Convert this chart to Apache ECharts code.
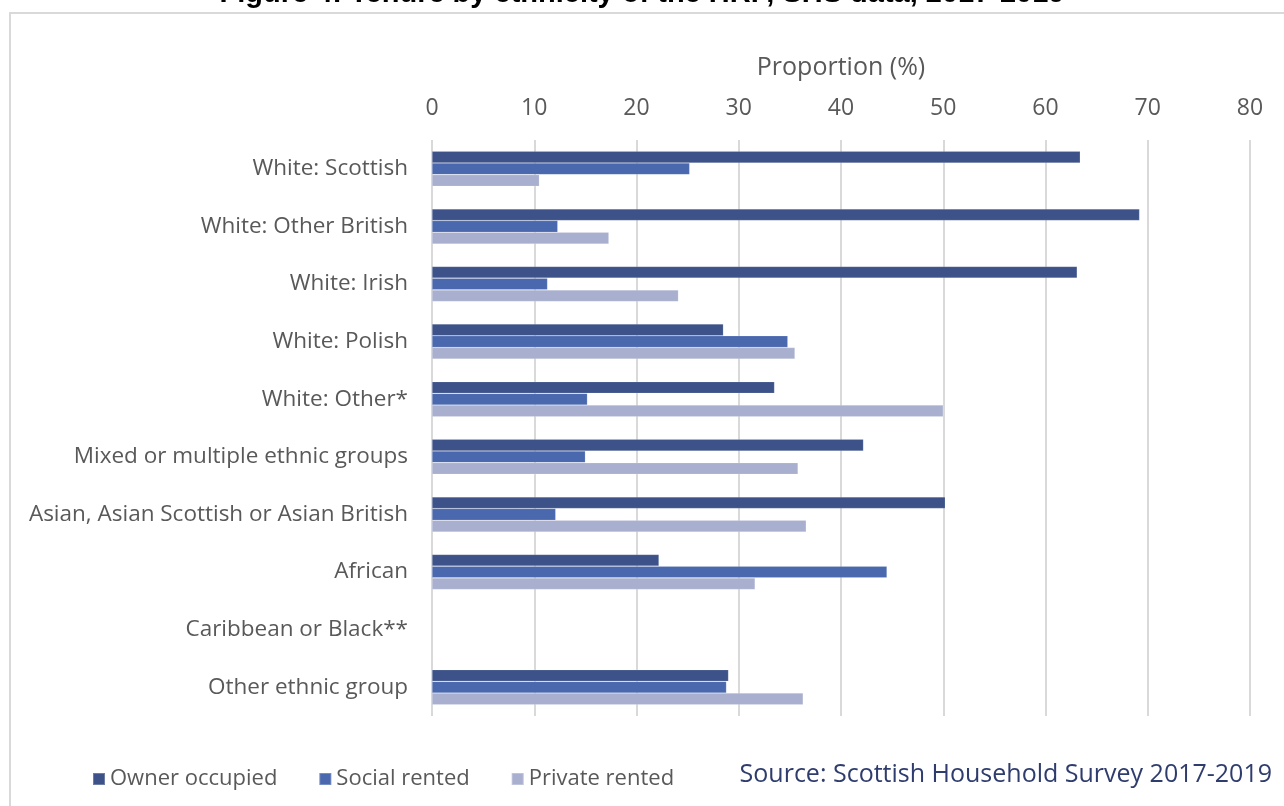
<!DOCTYPE html>
<html>
<head>
<meta charset="utf-8">
<script src="https://cdn.jsdelivr.net/npm/echarts@6/dist/echarts.min.js"></script>
<style>
html,body{margin:0;padding:0;background:#fff;}
#chart{width:1284px;height:806px;}
</style>
</head>
<body>
<div id="chart"></div>
<script>
const categories = [
  'White: Scottish',
  'White: Other British',
  'White: Irish',
  'White: Polish',
  'White: Other*',
  'Mixed or multiple ethnic groups',
  'Asian, Asian Scottish or Asian British',
  'African',
  'Caribbean or Black**',
  'Other ethnic group'
];
const ownerOccupied = [63.4, 69.2, 63.1, 28.5, 33.5, 42.2, 50.2, 22.2, null, 29.0];
const socialRented  = [25.2, 12.3, 11.3, 34.8, 15.2, 15.0, 12.1, 44.5, null, 28.8];
const privateRented = [10.5, 17.3, 24.1, 35.5, 50.0, 35.8, 36.6, 31.6, null, 36.3];
const xTicks = [0, 10, 20, 30, 40, 50, 60, 70, 80];

const FONT = '"Open Sans"';
const chart = echarts.init(document.getElementById('chart'), null, {renderer: 'canvas'});

const barStyle = (c) => ({color: c, borderColor: 'rgba(255,255,255,0.25)', borderWidth: 0.6});

chart.setOption({
  backgroundColor: '#ffffff',
  animation: false,
  textStyle: {fontFamily: FONT},
  grid: {left: 432, right: 34, top: 140, bottom: 90, containLabel: false},
  xAxis: {
    type: 'value',
    position: 'top',
    min: xTicks[0],
    max: xTicks[xTicks.length - 1],
    interval: 10,
    name: 'Proportion (%)',
    nameLocation: 'middle',
    nameGap: 60,
    nameTextStyle: {fontFamily: FONT, fontSize: 25, color: '#595959'},
    axisLine: {show: false},
    axisTick: {show: false},
    axisLabel: {fontFamily: FONT, fontSize: 23, color: '#595959', margin: 20},
    splitLine: {show: true, lineStyle: {color: '#D9D9D9', width: 2}}
  },
  yAxis: {
    type: 'category',
    data: categories,
    inverse: true,
    axisLine: {show: false},
    axisTick: {show: false},
    axisLabel: {fontFamily: FONT, fontSize: 22.5, color: '#595959', margin: 24}
  },
  legend: {
    left: 87,
    top: 763,
    icon: 'rect',
    itemWidth: 12,
    itemHeight: 12,
    itemGap: 41,
    textStyle: {fontFamily: FONT, fontSize: 22, color: '#595959'},
    data: ['Owner occupied', 'Social rented', 'Private rented']
  },
  series: [
    {name: 'Owner occupied', type: 'bar', data: ownerOccupied, barGap: '0%', barCategoryGap: '39%', itemStyle: barStyle('#3C5289')},
    {name: 'Social rented', type: 'bar', data: socialRented, barGap: '0%', barCategoryGap: '39%', itemStyle: barStyle('#4A68AE')},
    {name: 'Private rented', type: 'bar', data: privateRented, barGap: '0%', barCategoryGap: '39%', itemStyle: barStyle('#A9B0CF')}
  ],
  graphic: [
    {type: 'rect', silent: true, shape: {x: 10, y: 13, width: 1400, height: 1000},
     style: {fill: 'none', stroke: '#D9D9D9', lineWidth: 2}},
    {type: 'text', silent: true, left: 'center', top: -21,
     style: {text: 'Figure 4: Tenure by ethnicity of the HRP, SHS data, 2017-2019',
       font: 'bold 29px "Liberation Sans", Arial, sans-serif', fill: '#000000'}},
    {type: 'text', silent: true, right: 12, top: 762,
     style: {text: 'Source: Scottish Household Survey 2017-2019',
       font: '25px "Open Sans"', fill: '#2F3D6E'}}
  ]
});
</script>
</body>
</html>
